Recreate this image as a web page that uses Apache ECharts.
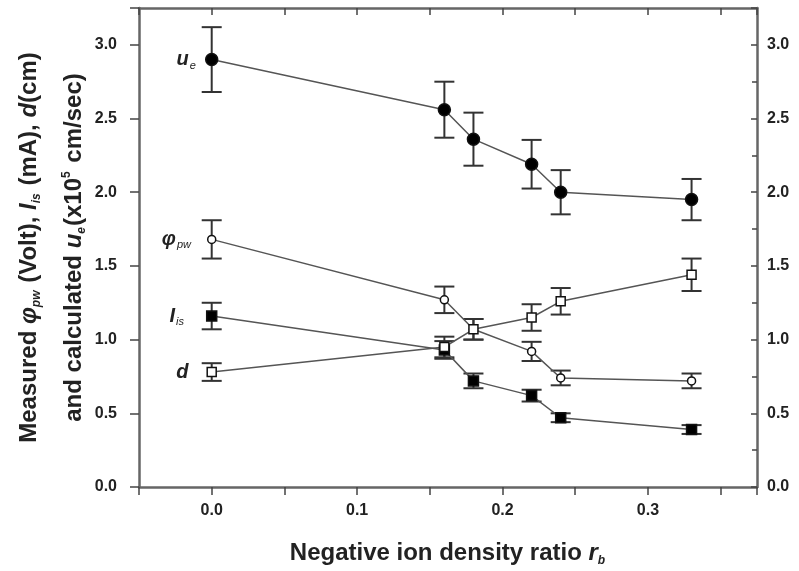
<!DOCTYPE html>
<html lang="en" style="height: 100%">
<head>
    <meta charset="utf-8">
    <title>ECharts</title>
    <script src="https://cdn.jsdelivr.net/npm/echarts@6/dist/echarts.min.js"></script>
</head>
<body style="height: 100%; margin: 0; background: #fff">
<div id="main" style="width:799px;height:571px"></div>
<script type="text/javascript">
    // negative ion density ratio r_b
    var ratio = [0.0, 0.16, 0.18, 0.22, 0.24, 0.33];

    // calculated u_e (x10^5 cm/sec) and its error
    var ue = [2.90, 2.56, 2.36, 2.19, 2.00, 1.95];
    var ueErr = [0.22, 0.19, 0.18, 0.165, 0.15, 0.14];

    // measured phi_pw (Volt)
    var phi = [1.68, 1.27, 1.07, 0.92, 0.74, 0.72];
    var phiErr = [0.13, 0.09, 0.07, 0.065, 0.05, 0.05];

    // measured I_is (mA)
    var iis = [1.16, 0.93, 0.72, 0.62, 0.47, 0.39];
    var iisErr = [0.09, 0.06, 0.05, 0.04, 0.03, 0.03];

    // measured d (cm)
    var dd = [0.78, 0.95, 1.07, 1.15, 1.26, 1.44];
    var ddErr = [0.06, 0.07, 0.07, 0.09, 0.09, 0.11];

    var FONT = "'Liberation Sans', Arial, sans-serif";
    var INK = '#222';

    function pairs(ys) {
        return ratio.map(function (x, i) { return [x, ys[i]]; });
    }
    function errData(ys, es) {
        return ratio.map(function (x, i) { return [x, ys[i], es[i]]; });
    }

    // vertical error bar with caps
    function renderErr(params, api) {
        var x = api.value(0), y = api.value(1), e = api.value(2);
        var hi = api.coord([x, y + e]);
        var lo = api.coord([x, y - e]);
        var w = 10;
        var st = {stroke: '#333', lineWidth: 2};
        return {
            type: 'group',
            children: [
                {type: 'line', shape: {x1: hi[0], y1: hi[1], x2: lo[0], y2: lo[1]}, style: st},
                {type: 'line', shape: {x1: hi[0] - w, y1: hi[1], x2: hi[0] + w, y2: hi[1]}, style: st},
                {type: 'line', shape: {x1: lo[0] - w, y1: lo[1], x2: lo[0] + w, y2: lo[1]}, style: st}
            ]
        };
    }

    var labRich = {
        m: {fontFamily: FONT, fontStyle: 'italic', fontWeight: 'bold', fontSize: 20, color: INK},
        s: {fontFamily: FONT, fontStyle: 'italic', fontSize: 11, color: INK, padding: [12, 0, 0, 1]}
    };

    function lineSeries(name, ys, symbol, size, fill, labelText, labelDist) {
        return {
            name: name,
            type: 'line',
            data: pairs(ys),
            symbol: symbol,
            symbolSize: size,
            z: 5,
            lineStyle: {color: '#555', width: 1.5},
            itemStyle: {color: fill, borderColor: '#111', borderWidth: 1.5},
            label: {
                show: true,
                position: 'left',
                distance: labelDist,
                formatter: function (p) { return p.dataIndex === 0 ? labelText : ''; },
                rich: labRich
            }
        };
    }

    function errSeries(ys, es) {
        return {
            type: 'custom',
            data: errData(ys, es),
            renderItem: renderErr,
            z: 3,
            silent: true
        };
    }

    function yFmt(v) {
        var r = Math.round(v * 100);
        if (r % 50 !== 0) return '';
        return (r / 100).toFixed(1);
    }

    var tickLabel = {fontFamily: FONT, fontWeight: 'bold', fontSize: 16, color: INK};
    var frameLine = {show: true, onZero: false, lineStyle: {color: '#666', width: 2.5}};
    var tickLine = {color: '#444', width: 1.5};
    var titleRich = {
        a: {fontFamily: FONT, fontWeight: 'bold', fontSize: 24, color: INK, lineHeight: 45},
        i: {fontFamily: FONT, fontStyle: 'italic', fontWeight: 'bold', fontSize: 24, color: INK, lineHeight: 45},
        s: {fontFamily: FONT, fontStyle: 'italic', fontSize: 12, color: INK, padding: [14, 1, 0, 0], lineHeight: 45},
        p: {fontFamily: FONT, fontSize: 12, color: INK, padding: [0, 2, 16, 0], lineHeight: 45}
    };

    var chart = echarts.init(document.getElementById('main'));
    var option = {
        backgroundColor: '#fff',
        animation: false,
        grid: {left: 139, right: 42, top: 8, bottom: 84, containLabel: false, outerBoundsMode: 'none'},
        xAxis: [
            {
                type: 'value',
                min: -0.05,
                max: 0.375,
                interval: 0.05,
                position: 'bottom',
                axisLine: frameLine,
                axisTick: {show: true, inside: false, length: 8, lineStyle: tickLine},
                splitLine: {show: false},
                axisLabel: Object.assign({
                    margin: 16,
                    formatter: function (v) {
                        var r = Math.round(v * 100);
                        if (r < 0 || r % 10 !== 0) return '';
                        return (r / 100).toFixed(1);
                    }
                }, tickLabel),
                name: '{a|Negative ion density ratio }{i|r}{s|b}',
                nameLocation: 'middle',
                nameGap: 44,
                nameMoveOverlap: false,
                nameTextStyle: {fontFamily: FONT, fontWeight: 'bold', fontSize: 24, color: INK, rich: titleRich}
            },
            {
                type: 'value',
                min: -0.05,
                max: 0.375,
                interval: 0.05,
                position: 'top',
                axisLine: frameLine,
                axisTick: {show: true, inside: true, length: 7, lineStyle: tickLine},
                axisLabel: {show: false},
                splitLine: {show: false}
            }
        ],
        yAxis: [
            {
                type: 'value',
                min: 0,
                max: 3.25,
                interval: 0.5,
                position: 'left',
                axisLine: frameLine,
                axisTick: {show: true, inside: false, length: 9, lineStyle: tickLine},
                splitLine: {show: false},
                axisLabel: Object.assign({margin: 22, formatter: yFmt}, tickLabel),
                name: '{a|Measured }{i|φ}{s|pw}{a| (Volt), }{i|I}{s|is}{a| (mA), }{i|d}{a|(cm)}\n' +
                    '{a|and calculated }{i|u}{s|e}{a|(x10}{p|5}{a| cm/sec)}',
                nameLocation: 'middle',
                nameRotate: 90,
                nameGap: 42,
                nameMoveOverlap: false,
                nameTextStyle: {fontFamily: FONT, fontWeight: 'bold', fontSize: 24, color: INK, lineHeight: 45, rich: titleRich}
            },
            {
                type: 'value',
                min: 0,
                max: 3.25,
                interval: 0.5,
                position: 'right',
                axisLine: frameLine,
                axisTick: {show: true, inside: true, length: 6, lineStyle: tickLine},
                minorTick: {show: true, splitNumber: 2, length: 5, lineStyle: tickLine},
                splitLine: {show: false},
                axisLabel: Object.assign({margin: 10, formatter: yFmt}, tickLabel)
            }
        ],
        series: [
            errSeries(ue, ueErr),
            errSeries(phi, phiErr),
            errSeries(iis, iisErr),
            errSeries(dd, ddErr),
            lineSeries('u_e', ue, 'circle', 12, '#000', '{m|u}{s|e}', 9),
            lineSeries('phi_pw', phi, 'circle', 8, '#fff', '{m|φ}{s|pw}', 16),
            lineSeries('I_is', iis, 'rect', 10, '#000', '{m|I}{s|is}', 22),
            lineSeries('d', dd, 'rect', 9, '#fff', '{m|d}', 18)
        ]
    };
    chart.setOption(option);
</script>
</body>
</html>
